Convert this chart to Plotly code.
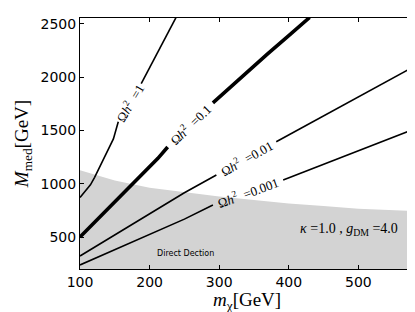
import plotly.graph_objects as go

# Direct detection excluded region (upper boundary)
dd_m = [100, 150, 200, 250, 300, 350, 400, 450, 500, 580]
dd_M = [1127, 1030, 962, 918, 880, 848, 815, 790, 765, 743]

# Relic density contours (None = gap for inline label)
m_1 = [100, 108, 115, 121, 128, 135, 141, 148, 155, None, 188, 200, 213, 225, 238]
M_1 = [870, 930, 990, 1060, 1150, 1240, 1320, 1420, 1581, None, 1939, 2090, 2250, 2400, 2560]

m_01 = [100, 130, 160, 190, 212, 226, None, 291, 330, 370, 400, 430]
M_01 = [500, 700, 895, 1090, 1238, 1345, None, 1759, 1990, 2220, 2390, 2560]

m_001 = [100, 150, 200, 250, 296, None, 382, 430, 480, 530, 580]
M_001 = [322, 520, 720, 915, 1082, None, 1394, 1565, 1745, 1920, 2100]

m_0001 = [100, 150, 200, 250, 291, None, 392, 440, 490, 540, 580]
M_0001 = [238, 380, 525, 668, 800, None, 1035, 1157, 1284, 1410, 1512]

labels = ["=1", "=0.1", "=0.01", "=0.001"]
label_x = [171, 259, 339, 342]
label_y = [1760, 1556, 1238, 920]
label_ang = [-59, -44, -29.5, -20]

x_ticks = [100, 200, 300, 400, 500]
y_ticks = [500, 1000, 1500, 2000, 2500]

fig = go.Figure()
fig.add_trace(go.Scatter(x=dd_m, y=dd_M, mode="lines", fill="tozeroy",
                         fillcolor="#d3d3d3", line=dict(width=0, color="#d3d3d3"),
                         hoverinfo="skip", showlegend=False))
for xs, ys, w in [(m_1, M_1, 1.6), (m_01, M_01, 3.6), (m_001, M_001, 1.6), (m_0001, M_0001, 1.6)]:
    fig.add_trace(go.Scatter(x=xs, y=ys, mode="lines", connectgaps=False,
                             line=dict(color="black", width=w), showlegend=False))

serif = "Liberation Serif"
for t, x, y, a in zip(labels, label_x, label_y, label_ang):
    fig.add_annotation(x=x, y=y, text="Ω<i>h</i><sup>2</sup>\u2002" + t, showarrow=False,
                       textangle=a, font=dict(family=serif, size=13, color="black"))

fig.add_annotation(x=252, y=345, text="Direct Dection", showarrow=False,
                   font=dict(family="DejaVu Sans", size=8, color="black"))
fig.add_annotation(x=486, y=575, text="<i>κ</i> =1.0 , <i>g</i><sub>DM</sub> =4.0", showarrow=False,
                   font=dict(family=serif, size=14, color="black"))

# x-axis title placed as paper annotation for exact position
fig.add_annotation(xref="paper", yref="paper", x=0.5, y=-0.128, yanchor="middle",
                   text="<i>m</i><sub>χ</sub>[GeV]", showarrow=False,
                   font=dict(family=serif, size=19, color="black"))

axis_common = dict(showgrid=False, zeroline=False, showline=True, linecolor="black",
                   linewidth=1, mirror="ticks", ticks="inside", ticklen=4, tickwidth=1,
                   tickcolor="black", tickfont=dict(family="DejaVu Sans", size=14, color="black"))
fig.update_xaxes(range=[100, 580], tickvals=x_ticks, **axis_common)
fig.update_yaxes(range=[200, 2555], tickvals=y_ticks,
                 title=dict(text="<i>M</i><sub>med</sub>[GeV]",
                            font=dict(family=serif, size=19, color="black"), standoff=6),
                 **axis_common)
fig.update_layout(width=415, height=312, margin=dict(l=72, r=9, t=10, b=51),
                  plot_bgcolor="white", paper_bgcolor="white", showlegend=False)
fig.write_html("out.html")
